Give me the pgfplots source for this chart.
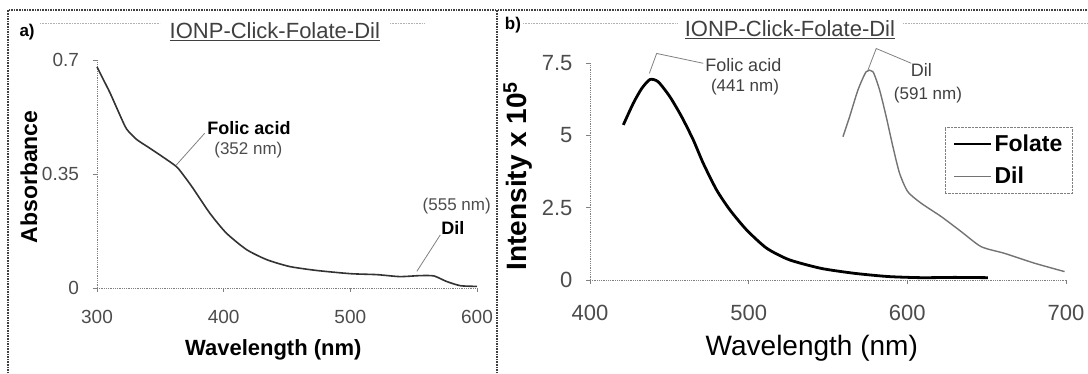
\documentclass[border=0pt]{standalone}
\usepackage{pgfplots}
\pgfplotsset{compat=1.18}
\usepackage{fontspec}
\setmainfont{Liberation Sans}
\newcommand{\fs}[1]{\fontsize{#1}{#1}\selectfont}

\pgfplotstableread{
x y
300.0 0.679
305.0 0.640
310.3 0.599
318.2 0.530
323.4 0.488
331.3 0.456
341.8 0.429
352.1 0.402
362.9 0.372
369.5 0.340
376.0 0.305
389.0 0.230
402.0 0.169
418.0 0.118
434.0 0.087
452.0 0.066
473.0 0.054
500.0 0.044
521.0 0.041
539.0 0.035
555.0 0.038
566.0 0.037
576.0 0.020
587.0 0.007
600.0 0.005
}\absdata

\pgfplotstableread{
x y
421.0 5.36
427.3 6.11
432.6 6.62
437.8 6.93
443.0 6.85
450.4 6.33
457.8 5.64
465.1 4.84
471.4 4.03
479.8 3.11
488.2 2.42
498.7 1.73
511.3 1.10
525.5 0.70
545.8 0.40
566.8 0.23
587.8 0.12
608.8 0.08
629.8 0.09
650.8 0.08
}\folate

\pgfplotstableread{
x y
559.4 4.95
563.6 5.64
568.9 6.57
574.1 7.20
578.3 7.20
582.5 6.57
586.7 5.64
590.9 4.61
595.1 3.69
600.3 3.05
608.8 2.65
621.4 2.19
634.0 1.67
646.6 1.15
661.3 0.92
680.2 0.58
699.1 0.29
}\dil

\begin{document}
\begin{tikzpicture}
\useasboundingbox (0pt,0pt) rectangle (1088pt,374pt);
\draw[line width=1.6pt, black!75, densely dotted] (8pt,-2pt) rectangle (497pt,364pt);
\draw[line width=1.6pt, black!75, densely dotted] (497pt,-2pt) rectangle (1090pt,364pt);
\draw[black!30, densely dotted, line width=0.6pt] (40pt,351pt) -- (160pt,351pt);
\draw[black!30, densely dotted, line width=0.6pt] (390pt,351pt) -- (425pt,351pt);
\draw[black!30, densely dotted, line width=0.6pt] (523pt,351pt) -- (678pt,351pt);
\draw[black!30, densely dotted, line width=0.6pt] (903pt,351pt) -- (1088pt,351pt);

% ---------- panel a ----------
\begin{axis}[
  at={(97pt,86pt)}, anchor=south west, scale only axis,
  width=380pt, height=228pt,
  xmin=300, xmax=600, ymin=0, ymax=0.7, enlargelimits=false,
  axis lines=left, axis line style={-, gray, line width=0.8pt, densely dotted},
  xtick={300,400,500,600}, xticklabels={300,400,500,600},
  ytick={0,0.35,0.7}, yticklabels={0,0.35,0.7},
  tick style={gray, line width=0.8pt, solid}, tick align=outside, major tick length=4pt,
  /pgf/number format/assume math mode=true,
  ticklabel style={font=\fs{19}, text=black!70},
  xticklabel shift=15pt, yticklabel shift=10.5pt,
  xlabel={Wavelength (nm)}, ylabel={Absorbance},
  xlabel style={font=\bfseries\fs{22}, at={(axis description cs:0.464,-0.272)}, anchor=center},
  ylabel style={font=\bfseries\fs{23}, at={(axis description cs:-0.179,0.487)}, anchor=center},
  clip=false,
]
\addplot[black!80, line width=1.6pt, smooth, tension=0.4] table[x=x,y=y] {\absdata};
\draw[gray, line width=0.8pt] (axis cs:362.7,0.378) -- (axis cs:385,0.475);
\node[font=\bfseries\fs{18}] at (axis cs:420,0.49) {Folic acid};
\node[font=\fs{17}, text=black!70] at (axis cs:419.5,0.424) {(352 nm)};
\draw[gray, line width=0.8pt] (axis cs:552.5,0.051) -- (axis cs:571,0.163);
\node[font=\fs{17}, text=black!70] at (axis cs:584,0.25) {(555 nm)};
\node[font=\bfseries\fs{18}] at (axis cs:581,0.183) {Dil};
\node[font=\fs{22}, text=black!75] at (axis description cs:0.468,1.124) {\underline{IONP-Click-Folate-Dil}};
\node[font=\bfseries\fs{17}] at (axis description cs:-0.184,1.124) {a)};
\end{axis}

% ---------- panel b ----------
\begin{axis}[
  at={(590pt,94pt)}, anchor=south west, scale only axis,
  width=476pt, height=217pt,
  xmin=400, xmax=700, ymin=0, ymax=7.5, enlargelimits=false,
  axis lines=left, axis line style={-, gray, line width=0.8pt, densely dotted},
  xtick={400,500,600,700}, xticklabels={400,500,600,700},
  ytick={0,2.5,5,7.5}, yticklabels={0,2.5,5,7.5},
  tick style={gray, line width=0.8pt, solid}, tick align=outside, major tick length=4pt,
  /pgf/number format/assume math mode=true,
  ticklabel style={font=\fs{22}, text=black!70},
  xticklabel shift=18pt, yticklabel shift=10pt,
  xlabel={Wavelength (nm)}, ylabel={Intensity x 10\textsuperscript{5}},
  xlabel style={font=\fs{28}, at={(axis description cs:0.466,-0.313)}, anchor=center},
  ylabel style={font=\bfseries\fs{28}, at={(axis description cs:-0.152,0.479)}, anchor=center},
  clip=false,
  legend style={at={(axis description cs:0.745,0.706)}, anchor=north west,
    draw=gray, densely dotted, font=\bfseries\fs{23}, inner xsep=8pt, inner ysep=6pt, row sep=10pt},
  legend cell align=left,
  legend image code/.code={\draw[#1, solid] (0pt,0pt) -- (37pt,0pt);},
]
\addplot[black, line width=2.8pt, smooth, tension=0.4] table[x=x,y=y] {\folate};
\addlegendentry{Folate}
\addplot[black!55, line width=1.4pt, smooth, tension=0.4] table[x=x,y=y] {\dil};
\addlegendentry{Dil}
\draw[gray, line width=0.8pt] (axis cs:437.4,7.14) -- (axis cs:442,7.83) -- (axis cs:471.4,7.49);
\node[font=\fs{18}, text=black!75] at (axis cs:496.6,7.43) {Folic acid};
\node[font=\fs{17}, text=black!75] at (axis cs:497.7,6.68) {(441 nm)};
\draw[gray, line width=0.8pt] (axis cs:575.2,7.26) -- (axis cs:580.4,8.0) -- (axis cs:602.5,7.49);
\node[font=\fs{18}, text=black!75] at (axis cs:608.8,7.26) {Dil};
\node[font=\fs{17}, text=black!75] at (axis cs:613,6.39) {(591 nm)};
\node[font=\fs{22}, text=black!75] at (axis description cs:0.42,1.152) {\underline{IONP-Click-Folate-Dil}};
\node[font=\bfseries\fs{17}] at (axis description cs:-0.162,1.175) {b)};
\end{axis}
\end{tikzpicture}
\end{document}
